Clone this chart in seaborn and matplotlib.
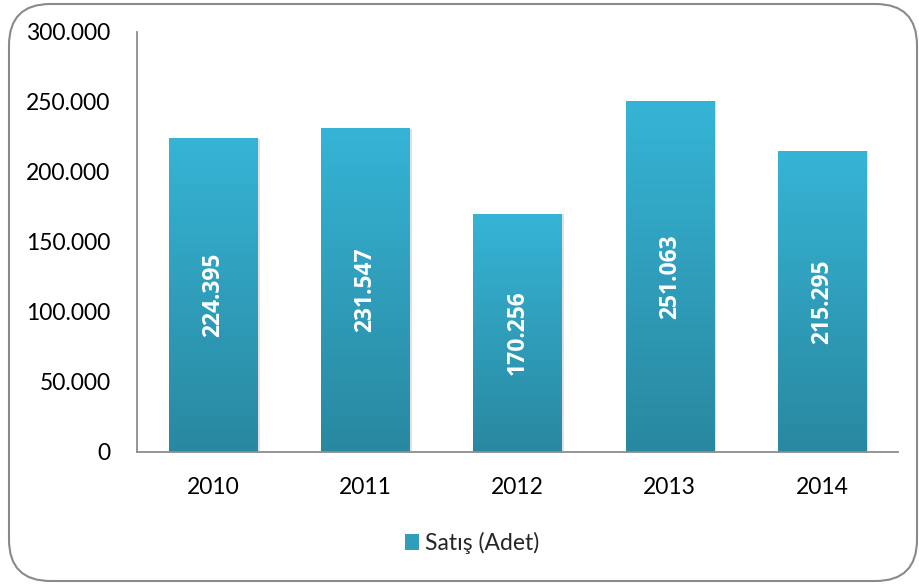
import matplotlib
matplotlib.use("Agg")
import matplotlib.pyplot as plt
import matplotlib.ticker as mticker
from matplotlib.patches import FancyBboxPatch, Rectangle
import numpy as np
import pandas as pd
import seaborn as sns

# Data
years = ["2010", "2011", "2012", "2013", "2014"]
sales = [224395, 231547, 170256, 251063, 215295]
series_name = "Satış (Adet)"

df = pd.DataFrame({"Yıl": years, "Satış": sales})

sns.set_theme(style="white")
plt.rcParams["font.family"] = ["Lato", "DejaVu Sans"]

top_col = np.array([0x36, 0xB4, 0xD6]) / 255
bot_col = np.array([0x29, 0x88, 0xA0]) / 255


def tr(n):
    # thousands with a dot
    return f"{n:,.0f}".replace(",", ".")


fig = plt.figure(figsize=(9.2, 5.85), dpi=100)
ax = fig.add_axes([137 / 920, 1 - 452 / 585, (898 - 137) / 920, (452 - 32) / 585])

sns.barplot(data=df, x="Yıl", y="Satış", ax=ax, width=0.58, color=top_col)

# gradient fill + soft shadow for each bar
grad = np.linspace(0, 1, 256).reshape(-1, 1)
cmap = matplotlib.colors.LinearSegmentedColormap.from_list("g", [bot_col, top_col])
for p in ax.patches:
    x0, y0 = p.get_x(), p.get_y()
    w, h = p.get_width(), p.get_height()
    p.set_facecolor("none")
    p.set_edgecolor("none")
    shadow = Rectangle((x0 + 0.015, y0), w, h - 600, facecolor="#000000",
                       alpha=0.12, edgecolor="none", zorder=1)
    ax.add_patch(shadow)
    im = ax.imshow(grad, extent=[x0, x0 + w, y0, y0 + h], origin="lower",
                   cmap=cmap, aspect="auto", zorder=2)
    im.set_clip_path(p)
    ax.text(x0 + w / 2, h / 2, tr(h), rotation=90, ha="center", va="center",
            color="white", fontsize=16.5, fontweight="bold", zorder=3,
            family=["Open Sans", "DejaVu Sans"])

ax.set_xlim(-0.5, 4.5)
ax.set_ylim(0, 300000)
ax.yaxis.set_major_locator(mticker.MultipleLocator(50000))
ax.yaxis.set_major_formatter(mticker.FuncFormatter(lambda v, _: tr(v)))
ax.set_xlabel("")
ax.set_ylabel("")
ax.tick_params(axis="both", length=0, labelsize=16.5, colors="black")
ax.tick_params(axis="y", pad=19)
ax.tick_params(axis="x", pad=18)
for s in ["top", "right"]:
    ax.spines[s].set_visible(False)
for s in ["left", "bottom"]:
    ax.spines[s].set_color("#8c8c8c")
    ax.spines[s].set_linewidth(1.3)

# legend
handle = Rectangle((0, 0), 1, 1, facecolor=(top_col + bot_col) / 2, edgecolor="none")
fig.legend([handle], [series_name], loc="center", bbox_to_anchor=(472 / 920, 1 - 543 / 585),
           frameon=False, fontsize=16.5, handlelength=0.65, handleheight=0.65,
           handletextpad=0.25)

# rounded outer border
border = FancyBboxPatch((9 / 920, 4 / 585), (917 - 9) / 920, (581 - 4) / 585,
                        boxstyle="round,pad=0,rounding_size=0.045",
                        transform=fig.transFigure, facecolor="none",
                        edgecolor="#8a8a8a", linewidth=1.5, mutation_aspect=920 / 585)
fig.patches.append(border)

fig.savefig("out.png", dpi=100)
